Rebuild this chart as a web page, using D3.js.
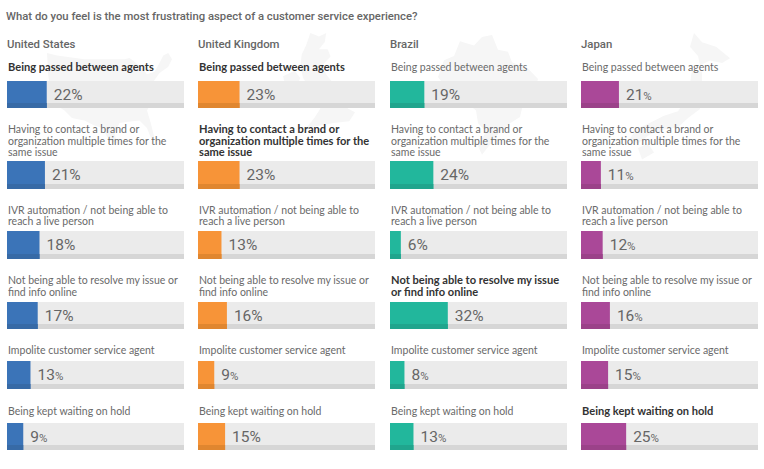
<!DOCTYPE html>
<html lang="en">
<head>
<meta charset="UTF-8">
<title>Customer service frustrations</title>
<script src="https://d3js.org/d3.v7.min.js"></script>
<style>
  html, body { margin: 0; padding: 0; background: #fff; }
  svg { display: block; }
  text { font-family: Roboto, sans-serif; }
  .title { font-size: 11.3px; font-weight: 500; fill: #666; }
  .country { font-size: 11.4px; font-weight: 500; fill: #666; }
  .label { font-family: Lato, sans-serif; font-size: 10.5px; fill: #6a6a6a; }
  .label.top { font-size: 11.1px; font-weight: 700; fill: #333; }
  .value { font-size: 15.5px; fill: #666; }
  .value .small { font-size: 11.5px; }
</style>
</head>
<body>
<svg width="764" height="469"></svg>
<script>
const title = "What do you feel is the most frustrating aspect of a customer service experience?";
const countries = ["United States", "United Kingdom", "Brazil", "Japan"];
const categories = [
  "Being passed between agents",
  "Having to contact a brand or organization multiple times for the same issue",
  "IVR automation / not being able to reach a live person",
  "Not being able to resolve my issue or find info online",
  "Impolite customer service agent",
  "Being kept waiting on hold"
];
const unitedStates = [22, 21, 18, 17, 13, 9];
const unitedKingdom = [23, 23, 13, 16, 9, 15];
const brazil = [19, 24, 6, 32, 8, 13];
const japan = [21, 11, 12, 16, 15, 25];
const seriesValues = [unitedStates, unitedKingdom, brazil, japan];
// the % sign is drawn smaller on some of the labels in the original
const smallPercent = [
  [false, false, false, false, true, true],
  [false, false, false, false, true, false],
  [false, false, false, false, true, true],
  [true, true, true, true, true, true]
];
const colors = ["#3b74b8", "#f79438", "#22b79c", "#aa4898"];
const darkColors = ["#376aa6", "#e0862f", "#20a58d", "#9b4289"];

// rough country outlines for the background, local units 0-100
const outlines = [
  "M0,4 L8,6 L30,9 L62,9 L66,8 L70,11 L76,16 L80,21 L86,19 L90,12 L93,6 L97,4 L100,9 L97,15 L90,20 L85,27 L87,33 L84,42 L80,50 L83,60 L86,72 L84,74 L80,64 L74,58 L65,59 L58,60 L54,68 L56,76 L50,74 L44,64 L38,62 L30,58 L20,56 L14,50 L8,46 L3,34 L1,22 Z",
  "M38,0 L50,4 L60,0 L58,10 L50,18 L62,18 L66,26 L54,36 L60,46 L72,58 L84,72 L90,84 L100,88 L92,98 L70,100 L44,104 L30,108 L44,94 L52,84 L36,78 L44,68 L36,60 L28,50 L24,38 L26,24 L32,14 Z M0,48 L16,42 L24,50 L18,62 L4,60 Z",
  "M22,6 L36,10 L44,2 L54,0 L60,14 L70,16 L74,26 L90,32 L100,42 L96,54 L86,62 L82,78 L72,84 L62,92 L54,102 L44,114 L40,106 L48,92 L40,84 L38,72 L28,64 L22,54 L8,50 L0,40 L6,24 L16,20 Z",
  "M64,0 L72,8 L86,12 L100,22 L92,26 L80,24 L70,28 L68,20 L60,12 Z M62,32 L72,34 L72,52 L70,66 L58,74 L48,82 L34,84 L20,88 L8,96 L0,92 L6,84 L20,78 L34,72 L48,68 L56,58 L60,44 Z M8,100 L18,96 L24,104 L12,110 Z"
];
const outlineBoxes = [
  {x: 47, y: 48, w: 125, h: 1.0},
  {x: 283, y: 33, w: 72, h: 1.25},
  {x: 438, y: 35, w: 100, h: 1.05},
  {x: 630, y: 33, w: 100, h: 1.15}
];

const svg = d3.select("svg");

const x0 = d3.scaleBand().domain(countries).range([7, 758]).paddingInner(0.075).paddingOuter(0);
const barWidth = d3.scaleLinear().domain([0, 98]).range([0, x0.bandwidth()]);
const rowTop = d3.scaleOrdinal().domain(categories).range([81, 161, 231, 302, 361, 423]);
const rowHeight = d3.scaleOrdinal().domain(categories).range([27, 28, 28, 27, 28, 27]);
const labelTop = d3.scaleOrdinal().domain(categories).range([71, 133, 213.5, 284, 354, 415]);

// background maps
countries.forEach((c, i) => {
  const b = outlineBoxes[i];
  svg.append("path")
    .attr("d", outlines[i])
    .attr("fill", "#f6f6f6")
    .attr("transform", `translate(${b.x},${b.y}) scale(${b.w / 100},${b.w / 100 * b.h})`);
});

svg.append("text").attr("class", "title").attr("x", 6).attr("y", 20).text(title);

// wrap to the column width, bold text takes more room so it breaks in other places
function wrap(sel, width) {
  sel.each(function() {
    const t = d3.select(this);
    const words = t.text().split(" ");
    const x = t.attr("x");
    t.text(null);
    let line = [];
    let tspan = t.append("tspan").attr("x", x);
    words.forEach(w => {
      line.push(w);
      tspan.text(line.join(" "));
      if (tspan.node().getComputedTextLength() > width && line.length > 1) {
        line.pop();
        tspan.text(line.join(" "));
        line = [w];
        tspan = t.append("tspan").attr("x", x).attr("dy", 11.5).text(w);
      }
    });
  });
}

countries.forEach((country, i) => {
  const vals = seriesValues[i];
  const top = d3.max(vals);
  const left = Math.round(x0(country));
  const g = svg.append("g");

  g.append("text").attr("class", "country").attr("x", left).attr("y", 48).text(country);

  const rows = g.selectAll("g.row")
    .data(categories.map((cat, j) => ({cat, value: vals[j], small: smallPercent[i][j], top: vals[j] === top})))
    .join("g").attr("class", "row");

  rows.append("text")
    .attr("class", d => d.top ? "label top" : "label")
    .attr("x", left + 1)
    .attr("y", d => labelTop(d.cat))
    .text(d => d.cat)
    .call(wrap, 176);

  rows.append("rect")
    .attr("x", left)
    .attr("y", d => rowTop(d.cat))
    .attr("width", x0.bandwidth())
    .attr("height", d => rowHeight(d.cat))
    .attr("fill", "#ebebeb");
  rows.append("rect")
    .attr("x", left)
    .attr("y", d => rowTop(d.cat) + rowHeight(d.cat) - 5)
    .attr("width", x0.bandwidth())
    .attr("height", 5)
    .attr("fill", "#d6d6d6");
  rows.append("rect")
    .attr("x", left)
    .attr("y", d => rowTop(d.cat))
    .attr("width", d => barWidth(d.value))
    .attr("height", d => rowHeight(d.cat))
    .attr("fill", colors[i]);
  rows.append("rect")
    .attr("x", left)
    .attr("y", d => rowTop(d.cat) + rowHeight(d.cat) - 5)
    .attr("width", d => barWidth(d.value))
    .attr("height", 5)
    .attr("fill", darkColors[i]);

  const val = rows.append("text")
    .attr("class", "value")
    .attr("x", d => left + barWidth(d.value) + 7)
    .attr("y", d => rowTop(d.cat) + 19)
    .text(d => d.value);
  val.append("tspan").attr("class", d => d.small ? "small" : null).text("%");
});
</script>
</body>
</html>
